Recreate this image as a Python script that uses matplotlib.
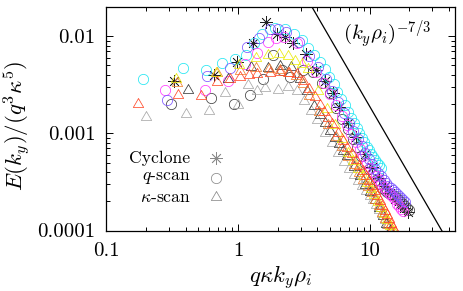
import numpy as np
import matplotlib
matplotlib.use('Agg')
import matplotlib.pyplot as plt
from matplotlib.ticker import FixedLocator, FixedFormatter, NullFormatter

plt.rcParams['mathtext.fontset'] = 'cm'
plt.rcParams['font.family'] = 'serif'
plt.rcParams['font.serif'] = ['cmr10', 'DejaVu Serif']
plt.rcParams['axes.formatter.use_mathtext'] = True

# ---------------- data ----------------
# Cyclone (asterisks)
cyc_x = [0.327, 0.654, 0.981, 1.308, 1.635, 1.962, 2.289, 2.616, 3.27, 3.924, 4.578, 5.232, 5.886,
         6.867, 7.848, 9.156, 10.464, 11.772, 13.08, 14.388, 15.696, 17.004, 18.312, 19.62]
cyc_y = [0.0035, 0.004, 0.0054, 0.0085, 0.014, 0.0105, 0.0098, 0.0085, 0.0065, 0.0045, 0.0035,
         0.0026, 0.00186, 0.00129, 0.00091, 0.00062, 0.00045, 0.00035, 0.00029, 0.000245, 0.00021,
         0.000186, 0.00017, 0.000155]

# q-scan (circles)
cyan_x = [0.19, 0.38, 0.57, 0.76, 0.95, 1.14, 1.33, 1.52, 1.9, 2.28, 2.66, 3.04,
          3.42, 3.8, 4.18, 4.56, 4.94, 5.32, 5.7, 6.08, 6.46, 6.84, 7.22, 7.6, 7.98, 8.36, 8.74,
          9.12, 9.5, 9.88, 10.26, 10.64, 11.02, 11.4, 11.78, 12.16]
cyan_y = [0.0036, 0.0047, 0.0045, 0.0053, 0.0058, 0.0064, 0.0085, 0.0105, 0.0122, 0.0118, 0.0105,
          0.0092, 0.00755, 0.00646, 0.00547, 0.00459, 0.00385, 0.0032, 0.00269, 0.00228, 0.00195,
          0.00167, 0.00145, 0.00128, 0.00114, 0.00101, 0.0009, 0.00081, 0.00073, 0.00067, 0.00062,
          0.00057, 0.00053, 0.0005, 0.00047, 0.000444]
blue_x = [0.29, 0.58, 0.87, 1.16, 1.45, 1.74, 2.03, 2.32, 2.9, 3.48, 4.06, 4.64,
          5.22, 5.8, 6.38, 6.96, 7.54, 8.12, 8.7, 9.28, 9.86, 10.44, 11.02, 11.6, 12.18, 12.76,
          13.34, 13.92, 14.5, 15.08, 15.66, 16.24, 16.82, 17.4, 17.98, 18.56]
blue_y = [0.0022, 0.0039, 0.0047, 0.0077, 0.0095, 0.012, 0.0118, 0.011, 0.0088, 0.0062, 0.0048,
          0.0036, 0.00272, 0.0021, 0.00163, 0.00129, 0.00106, 0.00088, 0.00074, 0.00063, 0.00055,
          0.00048, 0.00043, 0.00039, 0.00036, 0.00033, 0.00031, 0.00029, 0.000275, 0.00026,
          0.000247, 0.000235, 0.000225, 0.000215, 0.000206, 0.000197]
magenta_x = [0.28, 0.56, 0.84, 1.12, 1.4, 1.68, 1.96, 2.24, 2.8, 3.36, 3.92, 4.48,
             5.04, 5.6, 6.16, 6.72, 7.28, 7.84, 8.4, 8.96, 9.52, 10.08, 10.64, 11.2, 11.76, 12.32,
             12.88, 13.44, 14.0, 14.56, 15.12, 15.68, 16.24, 16.8, 17.36, 17.92]
magenta_y = [0.0028, 0.0028, 0.0035, 0.0052, 0.0068, 0.0087, 0.0095, 0.0098, 0.0085, 0.0056, 0.0043,
             0.0033, 0.00252, 0.00195, 0.00152, 0.00121, 0.00099, 0.00082, 0.00069, 0.00059,
             0.0005, 0.00044, 0.0004, 0.00036, 0.00033, 0.0003, 0.00028, 0.00026, 0.000246,
             0.000232, 0.00022, 0.00021, 0.000187, 0.000179, 0.000167, 0.000157]
dark_circ_x = [0.31, 0.62, 0.93, 1.24, 1.55, 1.86, 2.17, 2.48, 3.1, 3.72, 4.34, 4.96,
               5.58, 6.2, 6.82, 7.44, 8.06, 8.68, 9.3, 9.92, 10.54, 11.16, 11.78, 12.4, 13.02,
               13.64, 14.26, 14.88, 15.5, 16.12, 16.74, 17.36, 17.98, 18.6, 19.22, 19.84]
dark_circ_y = [0.002, 0.0023, 0.002, 0.00247, 0.0036, 0.0064, 0.0045, 0.0038, 0.0045, 0.0043,
               0.0033, 0.0026, 0.00183, 0.0014, 0.00111, 0.00087, 0.00072, 0.00059, 0.0005,
               0.00043, 0.00038, 0.000335, 0.000304, 0.000277, 0.000261, 0.000249, 0.000239,
               0.000231, 0.000224, 0.000214, 0.000204, 0.000195, 0.000186, 0.000178, 0.00017,
               0.000164]

# kappa-scan (triangles)
gray_x = [0.2, 0.4, 0.6, 0.8, 1.0, 1.2, 1.4, 1.6, 2.0, 2.4, 2.8,
          3.2, 3.6, 4.0, 4.6, 5.2, 5.8, 6.4, 7.0, 7.6, 8.2, 8.8, 9.4, 10.0, 10.6, 11.2, 11.8,
          12.4, 13.0, 13.6, 14.2, 14.8]
gray_y = [0.00146, 0.00157, 0.0017, 0.00258, 0.00195, 0.00313, 0.0027, 0.0029, 0.0028, 0.003,
          0.0027, 0.00214, 0.00169, 0.00137, 0.00102, 0.00079, 0.00063, 0.00051, 0.00043, 0.00037,
          0.000324, 0.000287, 0.000255, 0.000229, 0.000204, 0.000183, 0.000163, 0.000147,
          0.000129, 0.000114, 0.000101, 0.00009]
dark_tri_x = [0.42, 0.84, 1.26, 1.68, 2.1, 2.52, 2.94, 3.36, 3.78, 4.2, 4.62, 5.04, 5.46, 5.88, 6.3,
              6.72, 7.56, 8.4, 9.24, 10.08, 10.92, 11.76, 12.6, 13.44, 14.28]
dark_tri_y = [0.0028, 0.0036, 0.0048, 0.0047, 0.0049, 0.0048, 0.0036, 0.0027, 0.00193, 0.00156,
              0.00128, 0.00106, 0.0009, 0.00077, 0.00066, 0.00058, 0.00045, 0.00036, 0.000296,
              0.000247, 0.000204, 0.000169, 0.000141, 0.000118, 0.0001]
orange_x = [0.345, 0.69, 1.035, 1.38, 1.725, 2.07, 2.415, 2.76, 3.105,
            3.45, 4.14, 4.83, 5.52, 6.21, 6.9, 7.59, 8.28, 8.97, 9.66, 10.35, 11.04, 11.73, 12.42,
            13.11, 13.8, 14.49]
orange_y = [0.0033, 0.0042, 0.0044, 0.0047, 0.0046, 0.0045, 0.0042, 0.0039, 0.0032,
            0.00242, 0.00167, 0.00121, 0.00092, 0.00072, 0.00057, 0.00047, 0.00039, 0.00033,
            0.000282, 0.000242, 0.000207, 0.000178, 0.000153, 0.000132, 0.000114, 0.0001]
yellow_x = [0.34, 0.68, 1.02, 1.36, 1.7, 2.04, 2.38, 2.72, 3.06,
            3.4, 4.08, 4.76, 5.44, 6.12, 6.8, 7.48, 8.16, 8.84, 9.52, 10.2, 10.88, 11.56, 12.24,
            12.92, 13.6, 14.28, 14.96]
yellow_y = [0.0036, 0.0042, 0.005, 0.006, 0.0064, 0.0065, 0.0062, 0.0056, 0.0052,
            0.00457, 0.00274, 0.00177, 0.00121, 0.000865, 0.00063, 0.00052, 0.00043, 0.000366,
            0.000312, 0.000268, 0.000231, 0.000198, 0.00017, 0.000148, 0.000127, 0.000111, 0.000098]
red_x = [0.174, 0.348, 0.522, 0.696, 0.87, 1.044, 1.218, 1.392, 1.74, 2.088, 2.436, 2.784,
         3.132, 3.48, 3.828, 4.176, 4.524, 4.872, 5.22, 5.742, 6.264, 6.786, 7.308, 7.83, 8.352,
         8.874, 9.396, 9.918, 10.44, 10.962, 11.484, 12.006, 12.528, 13.05, 13.572, 14.094,
         14.616, 15.138, 15.66]
red_y = [0.002, 0.00246, 0.0024, 0.0034, 0.0036, 0.0038, 0.004, 0.0041, 0.0042, 0.0043, 0.0042,
         0.0041, 0.0035, 0.00286, 0.00237, 0.00198, 0.00167, 0.00143, 0.00124, 0.00101, 0.00084,
         0.00071, 0.00061, 0.00053, 0.00046, 0.00041, 0.00036, 0.00032, 0.000285, 0.000254,
         0.000226, 0.000202, 0.00018, 0.00016, 0.000144, 0.00013, 0.000117, 0.000106, 0.000096]

# reference power law (k_y rho_i)^(-7/3)
ref_coeff = 0.41
ref_exponent = -7.0 / 3.0
ref_k = np.array([3.0, 45.0])

x_ticks = [0.1, 1, 10]
x_labels = ['0.1', '1', '10']
y_ticks = [1e-4, 1e-3, 1e-2]
y_labels = ['0.0001', '0.001', '0.01']

legend_labels = ['Cyclone', r'$q$-scan', r'$\kappa$-scan']

# ---------------- figure ----------------
fig = plt.figure(figsize=(4.64, 2.91), dpi=100)
ax = fig.add_axes([106.5 / 464, 1 - 230.5 / 291, 349 / 464, 223.5 / 291])
ax.set_xscale('log')
ax.set_yscale('log')
ax.set_xlim(0.1, 45)
ax.set_ylim(1e-4, 0.02)

tri = [(0, 1), (-0.866, -0.5), (0.866, -0.5), (0, 1)]
star = (8, 2, 0)
lw = 0.55

def circ(x, y, c):
    ax.plot(x, y, ls='none', marker='o', ms=7.4, mfc='none', mec=c, mew=lw)

def trian(x, y, c):
    ax.plot(x, y, ls='none', marker=tri, ms=8.6, mfc='none', mec=c, mew=lw)

ax.plot(cyc_x, cyc_y, ls='none', marker=star, ms=9, mec='#222222', mew=0.5)

circ(dark_circ_x, dark_circ_y, '#404040')
circ(cyan_x, cyan_y, '#22e6f2')
circ(magenta_x, magenta_y, '#ff3cff')
circ(blue_x, blue_y, '#7c55ff')

trian(gray_x, gray_y, '#a8a8a8')
trian(dark_tri_x, dark_tri_y, '#3a3a3a')
trian(orange_x, orange_y, '#f08030')
trian(yellow_x, yellow_y, '#ecec10')
trian(red_x, red_y, '#ff4a2a')

ax.plot(ref_k, ref_coeff * ref_k ** ref_exponent, color='black', lw=0.9)
ax.text(6.3, 0.0104, r'$(k_y\rho_i)^{-7/3}$', fontsize=15, va='center', ha='left')

# ticks
ax.xaxis.set_major_locator(FixedLocator(x_ticks))
ax.xaxis.set_major_formatter(FixedFormatter(x_labels))
ax.xaxis.set_minor_locator(FixedLocator([m * d for d in (0.1, 1, 10) for m in range(2, 10)]))
ax.xaxis.set_minor_formatter(NullFormatter())
ax.yaxis.set_major_locator(FixedLocator(y_ticks))
ax.yaxis.set_major_formatter(FixedFormatter(y_labels))
ax.yaxis.set_minor_locator(FixedLocator([m * d for d in (1e-4, 1e-3, 1e-2) for m in range(2, 10)]))
ax.yaxis.set_minor_formatter(NullFormatter())
ax.tick_params(which='both', direction='in', top=True, right=True, labelsize=15, width=0.7)
ax.tick_params(which='major', length=5)
ax.tick_params(which='minor', length=2.8)
ax.tick_params(axis='x', which='major', pad=8)
ax.tick_params(axis='y', which='major', pad=8)
for s in ax.spines.values():
    s.set_linewidth(0.9)

ax.set_xlabel(r'$q\kappa k_y\rho_i$', fontsize=16.5)
ax.set_ylabel(r'$E(k_y)/(q^3\kappa^5)$', fontsize=16.5)
ax.xaxis.set_label_coords(0.5, -0.150)
ax.yaxis.set_label_coords(-0.211, 0.47)

# legend (gnuplot style: text right-aligned, sample to its right)
leg_y = [0.324, 0.237, 0.150]
leg_markers = [dict(marker=star, ms=9), dict(marker='o', ms=7.4, mfc='none'),
               dict(marker=tri, ms=8.6, mfc='none')]
for lab, yy, mk in zip(legend_labels, leg_y, leg_markers):
    ax.text(0.241, yy, lab, transform=ax.transAxes, ha='right', va='center', fontsize=12.7)
    ax.plot([0.314], [yy], transform=ax.transAxes, ls='none', mec='#8a8a8a', mew=lw, **mk)

fig.savefig('out.png', dpi=100)
